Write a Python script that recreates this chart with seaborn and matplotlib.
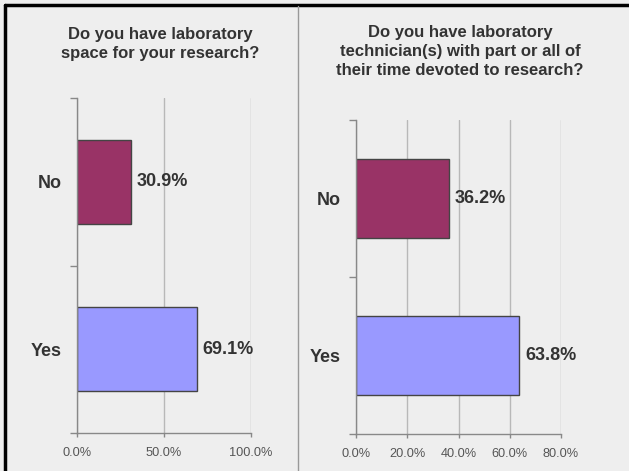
import seaborn as sns
import matplotlib.pyplot as plt
from matplotlib.lines import Line2D
from matplotlib.ticker import FuncFormatter

# survey answers (percent of respondents)
answers = ["No", "Yes"]
lab_space = [30.9, 69.1]
lab_tech = [36.2, 63.8]
bar_colors = {"No": "#993366", "Yes": "#9999ff"}

titles = ["Do you have laboratory\nspace for your research?",
          "Do you have laboratory\ntechnician(s) with part or all of\ntheir time devoted to research?"]
left_ticks = [0, 50, 100]
right_ticks = [0, 20, 40, 60, 80]

sns.set_theme(style="white")
plt.rcParams['font.family'] = ['Liberation Sans', 'DejaVu Sans']

fig = plt.figure(figsize=(6.29, 4.71), dpi=100)
fig.patch.set_facecolor("#eeeeee")

ax1 = fig.add_axes([77 / 629, 1 - 433 / 471, 174 / 629, 335 / 471])
ax2 = fig.add_axes([356 / 629, 1 - 434 / 471, 205 / 629, 314 / 471])


def draw(ax, values, ticks, title, title_x, title_y):
    ax.set_facecolor("#eeeeee")
    sns.barplot(x=values, y=answers, hue=answers, palette=bar_colors, legend=False,
                orient="h", width=0.5, edgecolor="#444444", linewidth=1, saturation=1, ax=ax)
    ax.set_xlim(ticks[0], ticks[-1])
    ax.set_ylim(1.5, -0.5)
    ax.set_xticks(ticks)
    ax.xaxis.set_major_formatter(FuncFormatter(lambda v, p: f"{v:.1f}%"))
    ax.grid(axis="x", color="#b8b8b8", linewidth=1)
    ax.set_axisbelow(True)
    for s in ["top", "right"]:
        ax.spines[s].set_visible(False)
    for s in ["left", "bottom"]:
        ax.spines[s].set_color("#888888")
        ax.spines[s].set_linewidth(1)
    ax.set_yticks([-0.5, 0.5, 1.5], minor=True)
    ax.tick_params(axis="y", which="major", length=0, pad=11, labelsize=13, labelcolor="#333333")
    ax.tick_params(axis="y", which="minor", length=5, width=1, color="#888888", left=True)
    ax.tick_params(axis="x", length=3, width=1, color="#888888", bottom=True,
                   labelsize=9.2, labelcolor="#555555", pad=7)
    for lbl in ax.get_yticklabels():
        lbl.set_fontweight("bold")
    ax.set_xlabel("")
    ax.set_ylabel("")
    for c in ax.containers:
        ax.bar_label(c, fmt="%.1f%%", padding=4, fontsize=13, fontweight="bold", color="#333333")
    fig.text(title_x, title_y, title, ha="center", va="top", fontsize=12,
             fontweight="bold", color="#333333", linespacing=1.35)


draw(ax1, lab_space, left_ticks, titles[0], 160 / 629, 1 - 27 / 471)
draw(ax2, lab_tech, right_ticks, titles[1], 460 / 629, 1 - 25 / 471)

# frame and panel divider
fig.add_artist(Line2D([5 / 629, 5 / 629], [0, 1 - 5 / 471], color="black", linewidth=2.5))
fig.add_artist(Line2D([5 / 629, 1], [1 - 5 / 471, 1 - 5 / 471], color="black", linewidth=2.5))
fig.add_artist(Line2D([298 / 629, 298 / 629], [0, 1 - 6 / 471], color="#999999", linewidth=1))

fig.savefig("out.png", dpi=100, facecolor=fig.get_facecolor())
